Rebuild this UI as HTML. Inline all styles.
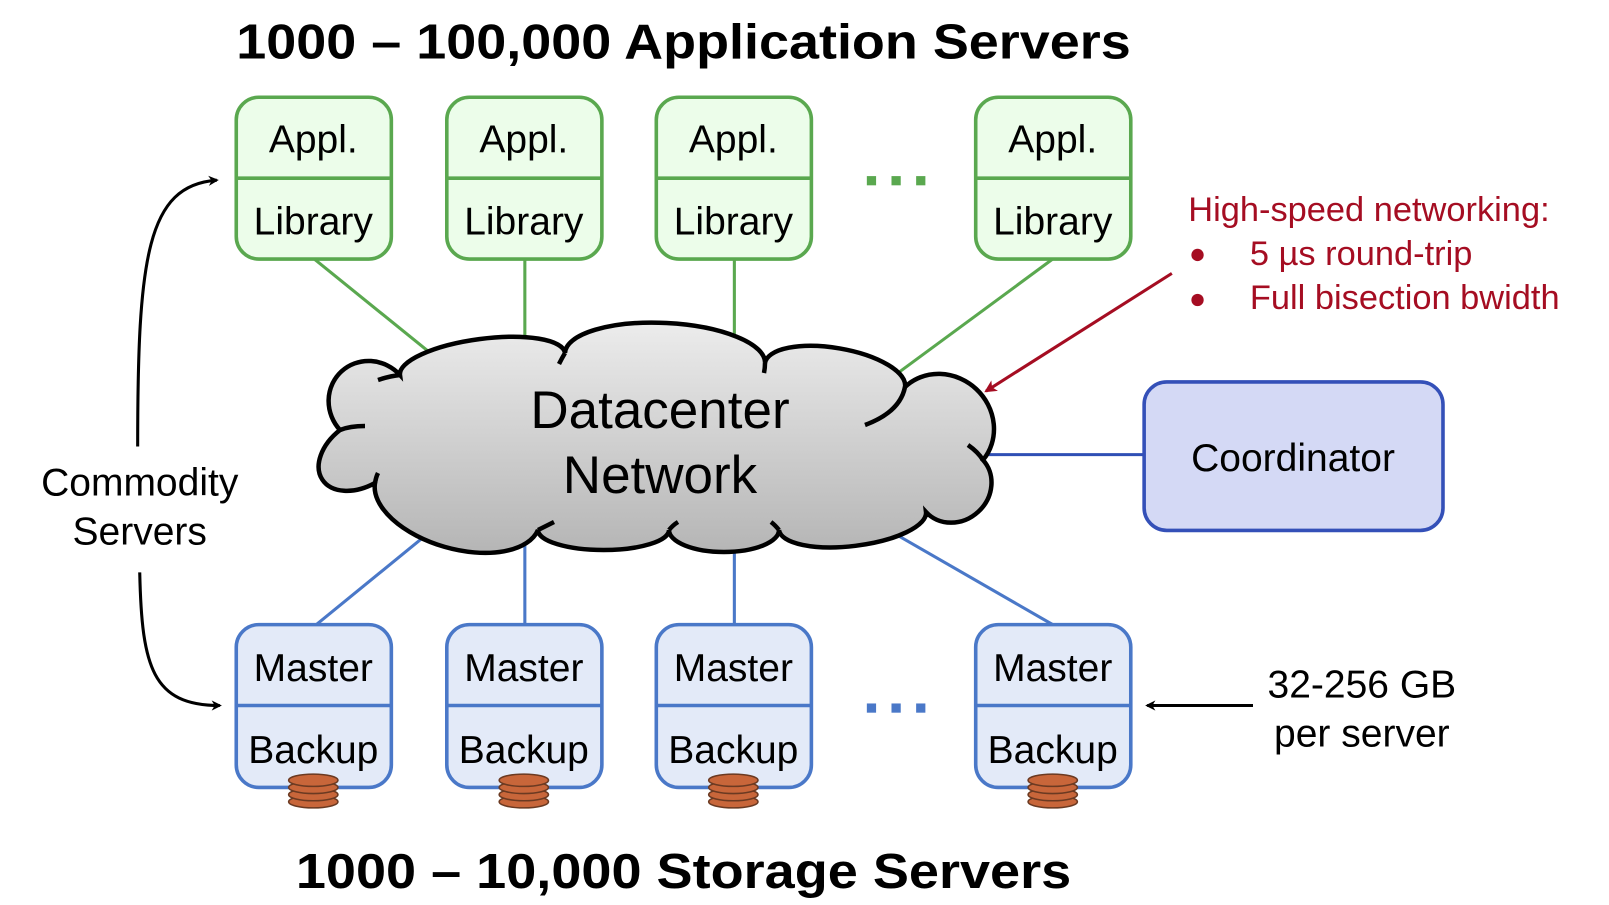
<!DOCTYPE html>
<html><head><meta charset="utf-8"><style>html,body{margin:0;padding:0;background:#fff;}svg{display:block}</style></head>
<body>
<svg width="1609" height="905" viewBox="0 0 1609 905" xmlns="http://www.w3.org/2000/svg" font-family="Liberation Sans, Arial, sans-serif">
<defs>
<linearGradient id="cg" x1="0" y1="0" x2="0" y2="1"><stop offset="0" stop-color="#ececec"/><stop offset="1" stop-color="#b5b5b5"/></linearGradient>
<marker id="ab" markerWidth="10" markerHeight="10" refX="8" refY="5" orient="auto" markerUnits="userSpaceOnUse"><path d="M0,0 L10,5 L0,10 L3,5 z" fill="#000"/></marker>
<marker id="ar" markerWidth="12" markerHeight="12" refX="10" refY="6" orient="auto" markerUnits="userSpaceOnUse"><path d="M0,0 L12,6 L0,12 L3,6 z" fill="#a50d22"/></marker>
</defs>
<g transform="matrix(1.027,0,0,1.024,-2,1)">
<text x="232" y="56" font-size="48" font-weight="bold" textLength="871" lengthAdjust="spacingAndGlyphs">1000 – 100,000 Application Servers</text>
<text x="290" y="866" font-size="48" font-weight="bold" textLength="755" lengthAdjust="spacingAndGlyphs">1000 – 10,000 Storage Servers</text>
<g stroke="#5aa84f" stroke-width="3">
<line x1="308" y1="252" x2="425" y2="347"/><line x1="513" y1="252" x2="513" y2="340"/><line x1="717" y1="252" x2="717" y2="335"/><line x1="1027" y1="252" x2="878" y2="362"/>
</g>
<g stroke="#4a78c8" stroke-width="3">
<line x1="415" y1="523" x2="310" y2="609"/><line x1="513" y1="523" x2="513" y2="609"/><line x1="717" y1="535" x2="717" y2="609"/><line x1="878" y1="523" x2="1027" y2="609"/>
</g>
<line x1="955" y1="443" x2="1116" y2="443" stroke="#2f4fb5" stroke-width="3"/>
<g font-size="38" text-anchor="middle">
<g stroke="#5aa84f" stroke-width="3.5" fill="#ecfdea">
<rect x="232" y="94" width="151" height="158" rx="22"/><rect x="437" y="94" width="151" height="158" rx="22"/><rect x="641" y="94" width="151" height="158" rx="22"/><rect x="952" y="94" width="151" height="158" rx="22"/>
<line x1="232" y1="173" x2="383" y2="173"/><line x1="437" y1="173" x2="588" y2="173"/><line x1="641" y1="173" x2="792" y2="173"/><line x1="952" y1="173" x2="1103" y2="173"/>
</g>
<text x="307" y="148">Appl.</text><text x="512" y="148">Appl.</text><text x="716" y="148">Appl.</text><text x="1027" y="148">Appl.</text>
<text x="307" y="228">Library</text><text x="512" y="228">Library</text><text x="716" y="228">Library</text><text x="1027" y="228">Library</text>
<g stroke="#4a78c8" stroke-width="3.5" fill="#e3eaf8">
<rect x="232" y="609" width="151" height="159" rx="22"/><rect x="437" y="609" width="151" height="159" rx="22"/><rect x="641" y="609" width="151" height="159" rx="22"/><rect x="952" y="609" width="151" height="159" rx="22"/>
<line x1="232" y1="688" x2="383" y2="688"/><line x1="437" y1="688" x2="588" y2="688"/><line x1="641" y1="688" x2="792" y2="688"/><line x1="952" y1="688" x2="1103" y2="688"/>
</g>
<text x="307" y="664">Master</text><text x="512" y="664">Master</text><text x="716" y="664">Master</text><text x="1027" y="664">Master</text>
<text x="307" y="744">Backup</text><text x="512" y="744">Backup</text><text x="716" y="744">Backup</text><text x="1027" y="744">Backup</text>
</g>
<g fill="#c8663a" stroke="#6b3a22" stroke-width="1.5">
<g id="dk"><ellipse cx="307" cy="782" rx="24" ry="6"/><ellipse cx="307" cy="775" rx="24" ry="6"/><ellipse cx="307" cy="768" rx="24" ry="6"/><ellipse cx="307" cy="761" rx="24" ry="6"/></g>
<use href="#dk" x="205"/><use href="#dk" x="409"/><use href="#dk" x="720"/>
</g>
<g fill="#5aa84f"><rect x="846" y="171" width="9" height="9"/><rect x="870" y="171" width="9" height="9"/><rect x="894" y="171" width="9" height="9"/></g>
<g fill="#4a78c8"><rect x="846" y="686" width="9" height="9"/><rect x="870" y="686" width="9" height="9"/><rect x="894" y="686" width="9" height="9"/></g>
<rect x="1116" y="372" width="291" height="145" rx="22" fill="#d4d9f5" stroke="#3450b8" stroke-width="3.5"/>
<text x="1261" y="459" font-size="38" text-anchor="middle">Coordinator</text>
<g fill="#a50d22" font-size="33.5">
<text x="1159" y="215">High-speed networking:</text>
<circle cx="1168" cy="248" r="6"/><circle cx="1168" cy="292" r="6"/>
<text x="1219" y="258">5 µs round-trip</text>
<text x="1219" y="301">Full bisection bwidth</text>
</g>
<line x1="1143" y1="266" x2="962" y2="381" stroke="#a50d22" stroke-width="3" marker-end="url(#ar)"/>
<g font-size="38" text-anchor="middle">
<text x="138" y="483">Commodity</text><text x="138" y="531">Servers</text>
<text x="1328" y="680">32-256 GB</text><text x="1328" y="728">per server</text>
</g>
<g fill="none" stroke="#000" stroke-width="3">
<path d="M136,435 C136,250 145,180 213,175" marker-end="url(#ab)"/>
<path d="M138,558 C140,650 150,688 216,688" marker-end="url(#ab)"/>
<line x1="1222" y1="688" x2="1119" y2="688" marker-end="url(#ab)"/>
</g>
</g>
<path d="M400,375 A83,25 -7.6 0 1 565,353 A100,35 2.9 0 1 765,363 A71,27 9.7 0 1 905,387 A53.5,50 43 0 1 983,460 A38.5,35 137.6 0 1 926,512 A74,25 173 0 1 779,530 A55,22 180 0 1 669,530 A65.5,20 180 0 1 538,530 A85,45 196 0 1 375,483 A32,48 236.6 0 1 340,430 A40.5,42 317.5 0 1 400,375 Z" fill="url(#cg)" stroke="#000" stroke-width="4.5"/>
<g fill="none" stroke="#000" stroke-width="4.5">
<path d="M400,375 q-10,1 -22,5"/><path d="M565,353 q-3,5 -6,11"/><path d="M765,363 q0,5 -1,10"/><path d="M905,387 q-5,25 -40,38"/><path d="M983,460 q-5,-8 -15,-15"/><path d="M538,530 q10,-5 16,-8"/><path d="M669,530 q4,-5 9,-8"/><path d="M779,530 q-4,-5 -8,-8"/><path d="M375,483 q1,-6 3,-10"/><path d="M340,430 q10,-4 25,-4"/>
</g>
<g font-size="53" text-anchor="middle"><text x="660" y="428">Datacenter</text><text x="660" y="493">Network</text></g>
</svg>
</body></html>
